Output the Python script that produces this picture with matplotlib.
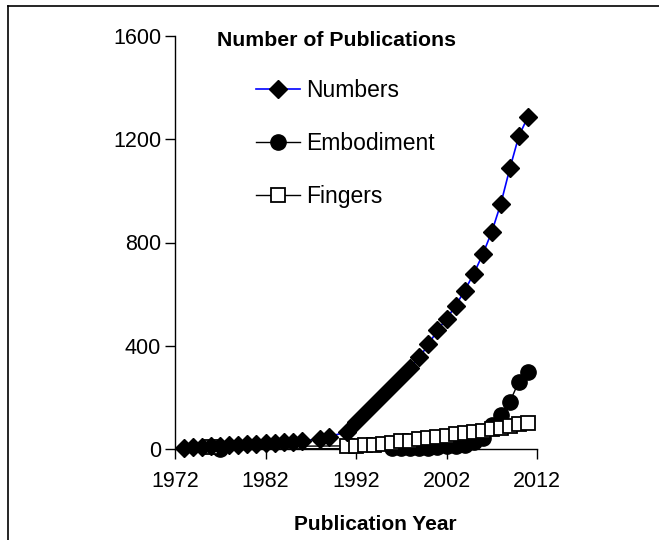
import matplotlib
matplotlib.use("Agg")
import matplotlib.pyplot as plt
from matplotlib.lines import Line2D

plt.rcParams['font.family'] = ['Liberation Sans', 'DejaVu Sans']

# Numbers series
num_years = [1973, 1974, 1975, 1976, 1977, 1978, 1979, 1980, 1981, 1982, 1983,
             1984, 1985, 1986, 1988, 1989,
             1991, 1992, 1993, 1994, 1995, 1996, 1997, 1998, 1999, 2000,
             2001, 2002, 2003, 2004, 2005, 2006, 2007, 2008, 2009, 2010, 2011]
num_values = [5, 7, 8, 10, 12, 14, 16, 18, 20, 22, 24,
              26, 28, 32, 38, 48,
              66, 105, 140, 175, 210, 245, 280, 315, 355, 405,
              460, 505, 554, 614, 678, 754, 841, 950, 1087, 1213, 1287]

# Embodiment series
emb_years = [1977, 1996, 1997, 1998, 1999, 2000, 2001, 2002, 2003, 2004,
             2005, 2006, 2007, 2008, 2009, 2010, 2011]
emb_values = [0, 2, 3, 3, 4, 5, 7, 10, 12, 15, 27, 43, 93, 132, 183, 261, 300]

# Fingers series
fin_years = [1976, 1991, 1992, 1993, 1994, 1995, 1996, 1997, 1998, 1999, 2000,
             2001, 2002, 2003, 2004, 2005, 2006, 2007, 2008, 2009, 2010, 2011]
fin_values = [9, 12, 13, 15, 17, 19, 24, 30, 32, 37, 42,
              47, 52, 58, 62, 64, 70, 77, 83, 90, 97, 102]

x_ticks = [1972, 1982, 1992, 2002, 2012]
y_ticks = [0, 400, 800, 1200, 1600]

fig = plt.figure(figsize=(6.59, 5.40), dpi=100)
ax = fig.add_axes([175/659, 1-449/540, (537-175)/659, (449-36)/540])

ax.plot(emb_years, emb_values, color='black', lw=1, marker='o', ms=11,
        mfc='black', mec='black', label='Embodiment', clip_on=False, zorder=3)
ax.plot(fin_years, fin_values, color='black', lw=1, marker='s', ms=10.5,
        mfc='white', mec='black', mew=1.3, label='Fingers', clip_on=False, zorder=4)
ax.plot(num_years, num_values, color='#0000ff', lw=1.2, marker='D', ms=9,
        mfc='black', mec='black', label='Numbers', clip_on=False, zorder=5)

ax.set_xlim(1972, 2012)
ax.set_ylim(0, 1600)
ax.set_xticks(x_ticks)
ax.set_yticks(y_ticks)
ax.tick_params(direction='out', length=7, width=1, labelsize=15.5)
ax.tick_params(axis='x', pad=9)
ax.tick_params(axis='y', pad=3)
for s in ['top', 'right']:
    ax.spines[s].set_visible(False)
for s in ['left', 'bottom']:
    ax.spines[s].set_linewidth(1)

fig.text(375/659, 1-525/540, 'Publication Year', fontsize=15, fontweight='bold',
         ha='center', va='center')

fig.text(217/659, 1-40/540, 'Number of Publications', fontsize=15.3, fontweight='bold',
         ha='left', va='center')

handles, labels = ax.get_legend_handles_labels()
order = [2, 0, 1]
leg = ax.legend([handles[i] for i in order], [labels[i] for i in order],
                loc='upper left', bbox_to_anchor=(72/362, 1-34/413), frameon=False,
                fontsize=16.5, handlelength=1.9, labelspacing=1.3, handletextpad=0.3,
                borderaxespad=0)

# figure frame (top and left edges)
fig.add_artist(Line2D([7.5/659, 7.5/659], [0, 1-6/540], transform=fig.transFigure,
                      color='black', lw=1.2))
fig.add_artist(Line2D([7.5/659, 1], [1-6/540, 1-6/540], transform=fig.transFigure,
                      color='black', lw=1.2))

fig.savefig('out.png', dpi=100)
